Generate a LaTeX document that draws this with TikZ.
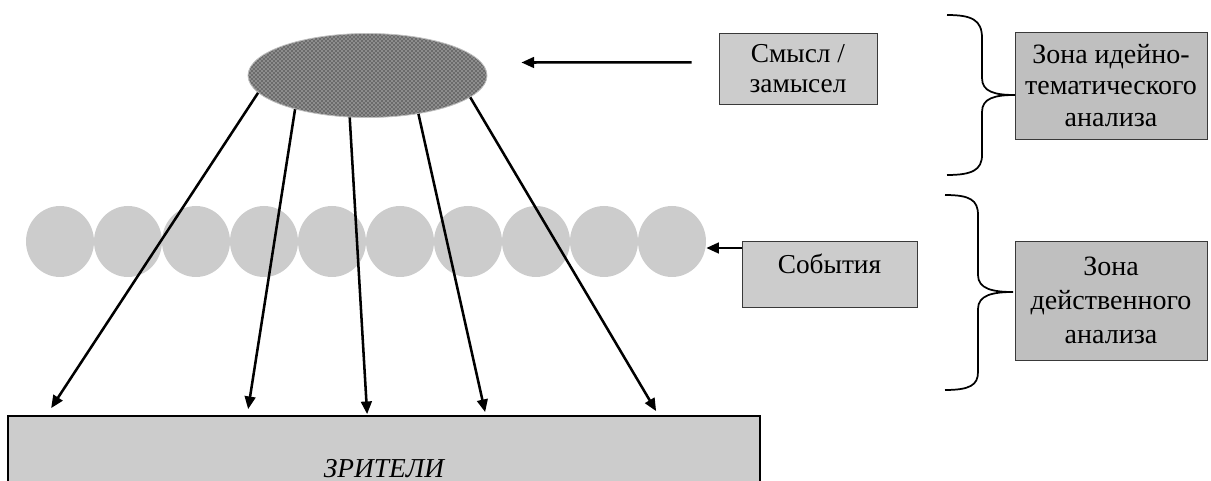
\documentclass[tikz,border=0pt]{standalone}
\usepackage{fontspec}
\setmainfont{Liberation Serif}
\usetikzlibrary{shapes.geometric,arrows.meta,patterns}
\begin{document}
\begin{tikzpicture}[x=0.75pt,y=-0.75pt,
  every node/.style={font=\fontsize{20.5pt}{22.5pt}\selectfont, inner sep=0pt},
  box/.style={draw=gray!45!black, line width=0.7pt, fill=black!20, align=center},
  zone/.style={box, fill=black!25, minimum width=144pt},
  bead/.style={ellipse, fill=black!20, minimum width=51pt, minimum height=53.25pt},
  arr/.style={line width=1.9pt, -{Triangle[length=9.5pt,width=8pt]}},
  brace/.style={line width=1.3pt}
]
\useasboundingbox (0,0) rectangle (1211,481);
\clip (0,0) rectangle (1211,481);

% the idea: dotted ellipse
\node[ellipse, minimum width=179.25pt, minimum height=63pt, draw=gray!50, line width=0.6pt,
      preaction={fill=black!58}, pattern=crosshatch dots, pattern color=white] (idea) at (367.5,75.5) {};

% chain of events
\foreach \i in {1,...,10}
  \node[bead] (c\i) at ({60+68*(\i-1)},241.5) {};

% labels
\node[box, minimum width=118.5pt, minimum height=53.25pt] (sense) at (798,69) {Смысл /\\замысел};
\node[box, minimum width=131.25pt, text height=24pt, text depth=25.5pt] (events) at (829.5,274) {События};
\node[zone, minimum height=80.25pt, font=\fontsize{21pt}{23.5pt}\selectfont] (zone1) at (1111,85.5)
  {Зона идейно-\\тематического\\анализа};
\node[zone, minimum height=89.25pt, font=\fontsize{21pt}{25.5pt}\selectfont] (zone2) at (1111,300.5)
  {Зона\\действенного\\анализа};

% audience
\node[box, draw=black, line width=1.3pt, minimum width=564pt, minimum height=78.75pt,
      font=\fontsize{20.5pt}{22.5pt}\selectfont\itshape] (aud) at (384,468.5) {ЗРИТЕЛИ};

% rays from the idea to the audience
\draw[arr] (idea.189)   -- ([shift={(33pt,5.25pt)}]aud.north west);
\draw[arr] (idea.205.5) -- ([shift={(180.75pt,4.5pt)}]aud.north west);
\draw[arr] (idea.247)   -- ([shift={(270pt,0.75pt)}]aud.north west);
\draw[arr] (idea.323)   -- ([shift={(358.5pt,2.25pt)}]aud.north west);
\draw[arr] (idea.348)   -- ([shift={(486.75pt,3pt)}]aud.north west);

% pointers from the labels
\draw[arr] ([shift={(-20.25pt,5pt)}]sense.west) -- ([shift={(25.5pt,9.75pt)}]idea.east);
\draw[arr] ([yshift=19.5pt]events.west) -- ([yshift=19.5pt]events.west -| c10.east);

% braces
\draw[brace] (947,15) .. controls (972,15) and (982,20) .. (982,38) -- (982,78)
  .. controls (982,92) and (995,95) .. (1015,95)
  .. controls (995,95) and (982,98) .. (982,112) -- (982,155)
  .. controls (982,170) and (972,175) .. (947,175);
\draw[brace] (945,195) .. controls (970,195) and (978,200) .. (978,215) -- (978,275)
  .. controls (978,289) and (993,292) .. (1013,292)
  .. controls (993,292) and (978,295) .. (978,309) -- (978,372)
  .. controls (978,385) and (970,390) .. (945,390);
\end{tikzpicture}
\end{document}
